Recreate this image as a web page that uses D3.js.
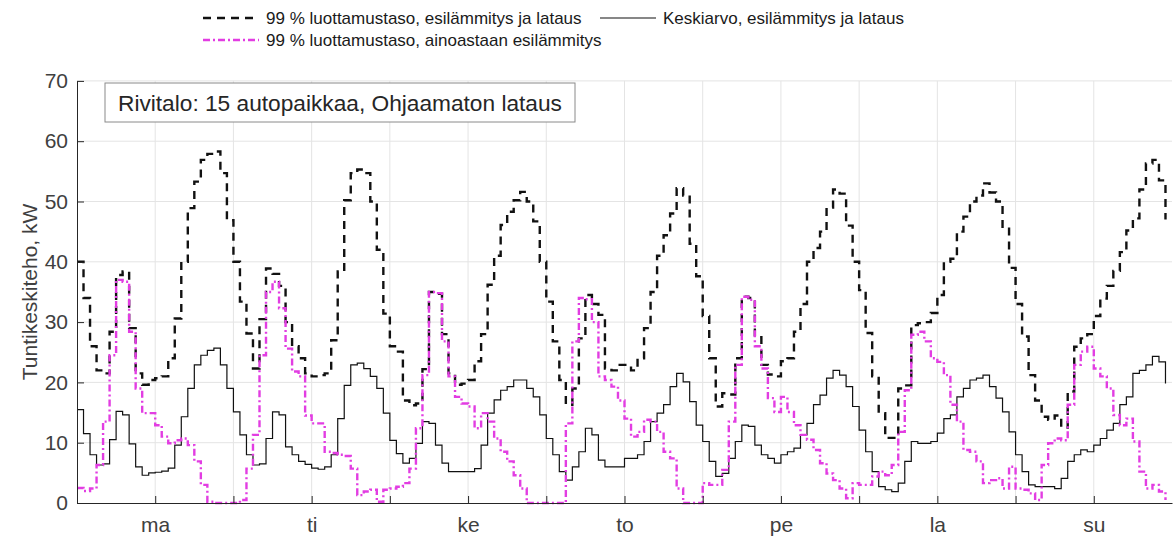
<!DOCTYPE html>
<html><head><meta charset="utf-8">
<script src="https://cdn.jsdelivr.net/npm/d3@7"></script>
<style>
html,body{margin:0;padding:0;background:#fff;}
svg{display:block;font-family:"Liberation Sans",Arial,Helvetica,sans-serif;}
</style></head><body>
<svg id="chart" width="1173" height="538"></svg>
<script>
// ---- data (hourly values, Monday 00 -> Sunday 23) ----
const dayLabels = ["ma","ti","ke","to","pe","la","su"];
const yTicks = [0,10,20,30,40,50,60,70];
const xTicks = d3.range(12, 168, 12);

const conf99Total = [
 40,34,26,22,21.5,28.4,37.8,38.4,29,21.5,19.6,20.4,20.7,21,24,30.6,40,48.9,53.3,56.9,57.9,58.3,54.7,46.9,
 40,33.4,28.1,22.3,30.5,38.9,38,36,30,26,24,21.5,21,21.2,21.5,27,38.4,50.2,54.7,55.3,54.7,50,42,31.4,
 26,25.1,17,16.2,16.5,22.2,35,34.7,28,21.5,19.6,19.8,20.4,23.5,28,36.2,41,46.1,48.3,50.2,51.6,50,46.7,40,
 33.4,26.8,20.4,16.3,19,27.3,34.5,33,31.2,22.3,22,22.9,22.9,22,24,29,35,41,44.4,48,52.2,51,43,37.6,
 31,24,16,18.2,18,24,34.2,34,27.5,22.9,21.3,21,23.5,24,28.4,33,40,42.3,45,49,52,51.3,46,40,
 35.3,28.2,21,14.9,10.8,10.8,19,19.5,29.5,29.8,30,31.5,34.5,40,40.5,45,47.5,50,51,53,51.5,50,45.5,39,
 33,27.6,21.2,17,14.3,13.8,14.5,12.5,18.5,25.9,27.3,28,31,33.9,36,38.5,41.6,45.2,47.2,52,56.3,56.9,53.5,47
];
const meanTotal = [
 15.5,11.5,8,6.3,6.5,10.5,15.2,14.6,9.8,6,4.6,5,5.1,5.3,5.8,9.6,14.3,19,22.9,24.5,25.3,25.7,22.9,19,
 15.1,11.3,8,6.3,6.5,10.7,15.1,14.6,9.3,8,6.9,6.4,5.8,5.6,6,8,14,19.5,22.9,23.2,22.3,21,19,14.9,
 10.4,8.2,6.6,7.4,9.9,13.5,13.2,9.6,6.6,5.2,5.2,5.2,5.2,5.7,9.6,14.9,17.1,18.7,19.3,20.4,20.4,19,17.6,14.6,
 10.7,8,5.2,3.8,6,8.5,12.4,11.3,7.1,6,6,6,7.4,7.4,8,10.2,13.5,14.9,16.3,19.3,21.5,20.1,16.8,12.9,
 10.2,6.9,4.4,4.9,7.4,10.2,12.9,12.7,9.6,8,7.4,6.6,8,8.5,9.1,11.3,13.2,16.3,17.9,20.7,22,21.2,19.3,16,
 12.1,8.5,5.2,2.7,2.2,1.9,3.3,6.9,10.2,9.9,9.9,10.2,11.6,14,14.6,17.6,19,20.4,20.7,21.2,19.3,17.4,15.1,11.8,
 8,5.2,3,2.7,2.7,2.7,2.4,4.1,6.9,8,8.8,8.5,9.6,10.7,12.1,13.2,16.3,17.6,21.5,22,22.9,24.3,23.4,19.8
];
const conf99Preheat = [
 2.5,2,2.4,6.3,13.5,24.5,37,36.7,28.4,19,14.9,14.9,12.9,11,9.9,10.4,10.7,9.6,6.9,3,0.2,0,0,0,
 0,0.5,5.7,11.3,24.5,35,36.7,32.3,25.6,21.8,21,14.5,13.2,13.2,8.5,8.3,8,7.8,5.7,1.3,1.9,2.2,0.2,2.2,
 2.4,2.7,3.3,5.7,12.4,21.2,35,34.8,26.8,21,17.6,16.5,16,12.4,14.9,13.5,10.7,8.5,6.9,4.6,2.4,0,0,0,
 0,0,0,13.2,26.8,34,33.8,30,21,20.4,19.3,17,14,11,11.8,13.8,13.5,11.8,8.5,7.4,2.4,0,0,0,
 3.3,3,3,5.5,13.5,22.9,34.2,33.7,26,22.3,17.4,15.1,17.6,15.1,12.9,11.3,10.5,8.8,6.6,4.9,3.8,2.4,0.8,3.3,
 3,3,4.4,5.2,4.6,6.3,11.8,18.7,27.9,28.4,26.8,24,23.4,21.2,16.3,13.5,8.8,8.5,6.9,3.3,3.8,4.1,2.4,6,
 2.4,2.2,1.6,0.5,6.3,9.9,10.7,10.4,16.3,22.9,25.1,25.9,22.3,21,19,14.6,12.9,14,10.2,5.2,2.4,3,1.9,0.5
];
const legendLabels = [
 "99 % luottamustaso, esilämmitys ja lataus",
 "Keskiarvo, esilämmitys ja lataus",
 "99 % luottamustaso, ainoastaan esilämmitys"
];
const boxLabel = "Rivitalo: 15 autopaikkaa, Ohjaamaton lataus";
const yTitle = "Tuntikeskiteho, kW";

// ---- drawing ----
const svg = d3.select("#chart");
const x = d3.scaleLinear().domain([0,168]).range([77,1172]);
const y = d3.scaleLinear().domain([0,70]).range([503,80.9]);
const axisColor = "#262626", labelColor = "#404040";
const magenta = "#e23de2";

// grid
const grid = svg.append("g");
grid.selectAll("line.gh").data(yTicks.filter(v=>v>0)).join("line").attr("class","gh")
  .attr("x1",x(0)).attr("x2",x(168)).attr("y1",d=>y(d)).attr("y2",d=>y(d))
  .attr("stroke","#e4e4e4").attr("stroke-width",1);
grid.selectAll("line.gv").data(xTicks).join("line").attr("class","gv")
  .attr("x1",d=>x(d)).attr("x2",d=>x(d)).attr("y1",y(0)).attr("y2",y(70))
  .attr("stroke","#e4e4e4").attr("stroke-width",1);

// series
const stepLine = d3.line().x((d,i)=>x(i)).y(d=>y(d)).curve(d3.curveStepAfter);
svg.append("path").datum(conf99Total).attr("d",stepLine)
  .attr("fill","none").attr("stroke","#111").attr("stroke-width",2.4).attr("stroke-dasharray","8,6");
svg.append("path").datum(meanTotal).attr("d",stepLine)
  .attr("fill","none").attr("stroke","#111").attr("stroke-width",1.2);
svg.append("path").datum(conf99Preheat).attr("d",stepLine)
  .attr("fill","none").attr("stroke",magenta).attr("stroke-width",2.4).attr("stroke-dasharray","7,3,2,3");

// axes
const xAxis = d3.axisBottom(x).tickValues(xTicks).tickSizeInner(-7).tickSizeOuter(0).tickPadding(14)
  .tickFormat(d => ((d-12)%24===0) ? dayLabels[(d-12)/24] : "");
const gx = svg.append("g").attr("transform",`translate(0,${y(0)})`).call(xAxis);
const yAxis = d3.axisLeft(y).tickValues(yTicks).tickSizeInner(-7).tickSizeOuter(0).tickPadding(9);
const gy = svg.append("g").attr("transform",`translate(${x(0)},0)`).call(yAxis);
[gx,gy].forEach(g=>{
  g.select(".domain").attr("stroke",axisColor).attr("stroke-width",1);
  g.selectAll(".tick line").attr("stroke",axisColor);
  g.selectAll(".tick text").attr("fill",labelColor).style("font-size","21px")
   .style("font-family",'"Liberation Sans",Arial,sans-serif');
});

// y title
svg.append("text").attr("transform",`translate(37,${(y(0)+y(70))/2}) rotate(-90)`)
  .attr("text-anchor","middle").attr("fill",labelColor).style("font-size","21px").text(yTitle);

// annotation box
svg.append("rect").attr("x",105).attr("y",83).attr("width",470).attr("height",39)
  .attr("fill","#fff").attr("stroke","#8a8a8a").attr("stroke-width",1);
svg.append("text").attr("x",118).attr("y",110.5).attr("fill","#262626").style("font-size","22.7px").text(boxLabel);

// legend
const lg = svg.append("g").style("font-size","17px");
const legendItems = [
  {x:203, y:18, stroke:"#111", w:2.4, dash:"8,6", label:legendLabels[0]},
  {x:600, y:18, stroke:"#111", w:1.2, dash:null, label:legendLabels[1]},
  {x:203, y:40, stroke:magenta, w:2.4, dash:"7,3,2,3", label:legendLabels[2]}
];
legendItems.forEach(it=>{
  lg.append("line").attr("x1",it.x).attr("x2",it.x+56).attr("y1",it.y).attr("y2",it.y)
    .attr("stroke",it.stroke).attr("stroke-width",it.w).attr("stroke-dasharray",it.dash);
  lg.append("text").attr("x",it.x+63).attr("y",it.y+6).attr("fill","#1a1a1a").text(it.label);
});
</script>
</body></html>
